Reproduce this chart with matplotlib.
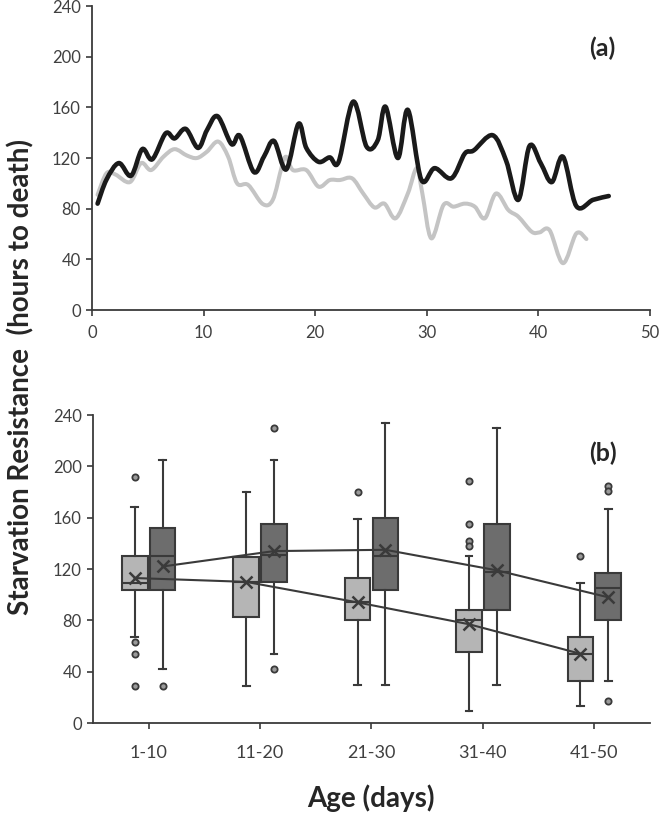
"""
Starvation resistance vs age: daily means (a) and 10-day box plots (b)
"""

import matplotlib
matplotlib.use('Agg')
import matplotlib.pyplot as plt
from matplotlib import rcParams
from matplotlib.path import Path
from matplotlib.patches import PathPatch

rcParams['font.family'] = ['Lato', 'DejaVu Sans']

# (a) daily values
days_dark = [0.5, 1.3, 2.4, 3.5, 4.5, 5.4, 6.6, 7.4, 8.4, 9.5, 10.3, 11.25, 12.5, 13.25,
             14.5, 15.4, 16.3, 17.4, 18.5, 19.2, 20.3, 21.3, 22.1, 23.4, 24.6, 25.6,
             26.3, 27.4, 28.3, 29.5, 30.7, 32.2, 33.4, 34.2, 35.9, 37.1, 38.2, 39.2,
             40.2, 41.2, 42.2, 43.4, 44.9, 46.3]
vals_dark = [84, 103, 116, 106, 127, 119, 139.5, 135.5, 143, 128, 142, 153, 131, 137.5,
             109, 121, 133.5, 111, 147, 128, 117, 120.5, 117, 164.5, 129, 134,
             160.5, 120, 158, 103, 112, 104, 123.5, 126, 138, 118, 87, 129.5,
             116, 101, 121, 82, 87, 90]

days_light = [0.5, 1.3, 2.1, 3.4, 4.4, 5.3, 6.4, 7.4, 8.5, 9.4, 10.3, 11.3, 12.2, 13.0,
              14.0, 15.3, 16.2, 17.0, 17.4, 18.0, 19.2, 20.3, 21.3, 22.2, 23.3, 24.3,
              25.3, 26.2, 27.2, 28.3, 29.1, 29.6, 30.4, 31.5, 32.4, 33.4, 34.3, 35.2,
              36.2, 37.3, 38.2, 39.4, 40.1, 41.0, 42.2, 43.4, 44.3]
vals_light = [91, 108, 107, 101, 116, 110.5, 121, 127, 122, 120, 125, 133, 121, 100,
              98.7, 83.7, 87, 113, 121, 110.5, 110.5, 97.4, 102.6, 102.6, 104, 92,
              81, 84, 72.4, 92, 112, 92, 56.6, 83, 81.6, 84, 81.6, 72.4,
              92, 79, 73.7, 61.8, 61.3, 63, 37, 60.5, 56]

# (b) box statistics per age class
age_classes = ['1-10', '11-20', '21-30', '31-40', '41-50']

light_whislo = [67, 29, 30, 9, 13]
light_q1 = [104, 83, 80, 55, 33]
light_med = [109, 110, 94, 80, 54]
light_q3 = [130, 129, 113, 88, 67]
light_whishi = [168, 180, 159, 130, 109]
light_mean = [113, 110, 94, 77, 54]
light_fliers = [[192, 63, 54, 29], [], [180], [189, 155, 142, 138], [130]]

dark_whislo = [42, 54, 30, 30, 33]
dark_q1 = [104, 110, 104, 88, 80]
dark_med = [130, 131, 130, 118, 105]
dark_q3 = [152, 155, 160, 155, 117]
dark_whishi = [205, 205, 234, 230, 167]
dark_mean = [122, 134, 135, 119, 98]
dark_fliers = [[29], [230, 42], [], [], [185, 181, 17]]

EDGE = '#3a3a3a'
TEXT = '#404040'


def box_stats(whislo, q1, med, q3, whishi, mean, fliers):
    return [dict(whislo=a, q1=b, med=c, q3=d, whishi=e, mean=f, fliers=g)
            for a, b, c, d, e, f, g in zip(whislo, q1, med, q3, whishi, mean, fliers)]


def smooth_path(xs, ys):
    """Excel 风格平滑线: Catmull-Rom 段转为三次贝塞尔"""
    pts = list(zip(xs, ys))
    verts = [pts[0]]
    codes = [Path.MOVETO]
    n = len(pts)
    for i in range(n - 1):
        p0 = pts[max(i - 1, 0)]
        p1 = pts[i]
        p2 = pts[i + 1]
        p3 = pts[min(i + 2, n - 1)]
        c1 = (p1[0] + (p2[0] - p0[0]) / 6, p1[1] + (p2[1] - p0[1]) / 6)
        c2 = (p2[0] - (p3[0] - p1[0]) / 6, p2[1] - (p3[1] - p1[1]) / 6)
        verts += [c1, c2, p2]
        codes += [Path.CURVE4] * 3
    return Path(verts, codes)


def style_axis(ax):
    for s in ['top', 'right']:
        ax.spines[s].set_visible(False)
    for s in ['left', 'bottom']:
        ax.spines[s].set_color(EDGE)
        ax.spines[s].set_linewidth(1.3)
    ax.tick_params(colors=EDGE, labelcolor=TEXT, width=1.2, length=4.5, labelsize=12)
    ax.set_ylim(0, 240)
    ax.set_yticks(range(0, 241, 40))


fig = plt.figure(figsize=(6.6, 8.25), dpi=100)

# 1. daily curves
ax1 = fig.add_axes([0.1394, 0.6242, 0.8455, 0.3685])
for xs, ys, color, lw in [(days_light, vals_light, '#c4c4c4', 2.9),
                          (days_dark, vals_dark, '#1a1a1a', 3.3)]:
    ax1.add_patch(PathPatch(smooth_path(xs, ys), facecolor='none', edgecolor=color,
                            linewidth=lw, capstyle='round', joinstyle='round'))
ax1.set_xlim(0, 50)
ax1.set_xticks(range(0, 51, 10))
style_axis(ax1)
ax1.tick_params(axis='x', pad=6)
ax1.text(0.915, 0.86, '(a)', transform=ax1.transAxes, fontsize=18,
         fontweight='bold', color='#262626', ha='center', va='center')

# 2. box plots
ax2 = fig.add_axes([0.1409, 0.1236, 0.8439, 0.3733])
pos = list(range(len(age_classes)))
pos_light = [p - 0.125 for p in pos]
pos_dark = [p + 0.125 for p in pos]

for stats, positions, fill in [
        (box_stats(light_whislo, light_q1, light_med, light_q3, light_whishi, light_mean, light_fliers),
         pos_light, '#b5b5b5'),
        (box_stats(dark_whislo, dark_q1, dark_med, dark_q3, dark_whishi, dark_mean, dark_fliers),
         pos_dark, '#6d6d6d')]:
    ax2.bxp(stats, positions=positions, widths=0.23, capwidths=0.06,
            patch_artist=True, showmeans=True, manage_ticks=False,
            boxprops=dict(facecolor=fill, edgecolor=EDGE, linewidth=1.5),
            medianprops=dict(color=EDGE, linewidth=1.5),
            whiskerprops=dict(color=EDGE, linewidth=1.5),
            capprops=dict(color=EDGE, linewidth=1.5),
            meanprops=dict(marker='x', markersize=8, markeredgecolor=EDGE,
                           markeredgewidth=1.8),
            flierprops=dict(marker='o', markersize=4.5, markerfacecolor='#9a9a9a',
                            markeredgecolor=EDGE, markeredgewidth=1.3))

ax2.plot(pos_light, light_mean, color=EDGE, linewidth=1.5, zorder=4)
ax2.plot(pos_dark, dark_mean, color=EDGE, linewidth=1.5, zorder=4)

ax2.set_xlim(-0.5, len(age_classes) - 0.5)
ax2.set_xticks(pos)
ax2.set_xticklabels(age_classes)
style_axis(ax2)
ax2.tick_params(axis='x', pad=11, labelsize=13)
ax2.text(0.915, 0.875, '(b)', transform=ax2.transAxes, fontsize=18,
         fontweight='bold', color='#262626', ha='center', va='center')

fig.text(0.032, 0.543, 'Starvation Resistance  (hours to death)', rotation=90,
         fontsize=20, fontweight='bold', color='#262626', ha='center', va='center')
fig.text(0.562, 0.032, 'Age (days)', fontsize=20, fontweight='bold',
         color='#262626', ha='center', va='center')

fig.savefig('out.png', dpi=100)
